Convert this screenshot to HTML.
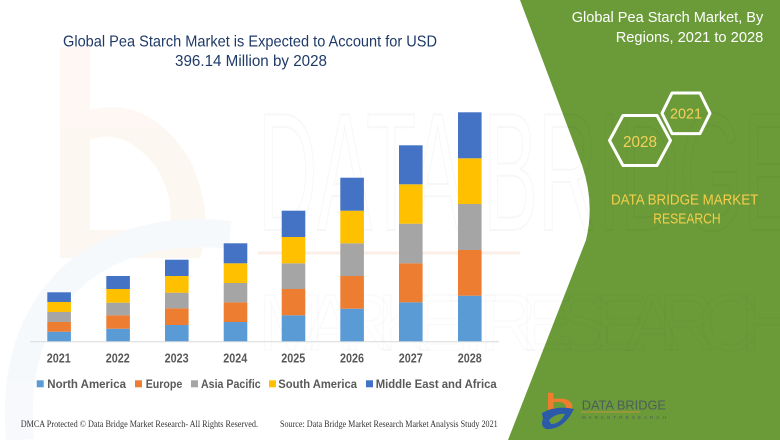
<!DOCTYPE html>
<html><head><meta charset="utf-8"><style>
html,body{margin:0;padding:0;background:#fff;}
svg{display:block;}
</style></head><body>
<svg width="780" height="440" viewBox="0 0 780 440" xmlns="http://www.w3.org/2000/svg">
<rect width="780" height="440" fill="#ffffff"/>
<!-- faint watermark: orange b and blue arc -->
<g opacity="0.3">
<path d="M60,47 L90,47 L90,110 Q150,95 190,160 Q215,215 200,258 L60,258 Z M90,140 L90,230 L170,230 Q175,180 140,150 Q115,130 90,140 Z" fill="#fbe6d6" fill-rule="evenodd"/>
<path d="M20,440 Q10,330 80,270 Q140,225 230,235" fill="none" stroke="#e3ecf7" stroke-width="28"/>
</g>
<!-- green panel -->
<path d="M520,0 L582,165 Q595,203 586,240 L508,440 L780,440 L780,0 Z" fill="#6b9b39"/>
<!-- faint big watermark text -->
<text x="258" y="230" font-family="Liberation Sans, sans-serif" font-size="168" fill="none" stroke="#000" stroke-opacity="0.03" stroke-width="2" textLength="540" lengthAdjust="spacingAndGlyphs">DATA BRIDGE</text>
<text x="258" y="350" font-family="Liberation Sans, sans-serif" font-size="80" fill="none" stroke="#000" stroke-opacity="0.02" stroke-width="1.5" textLength="540" lengthAdjust="spacing">M A R K E T  R E S E A R C H</text>
<line x1="258" y1="253" x2="520" y2="253" stroke="#f6d9c4" stroke-width="3" opacity="0.4"/>

<!-- Title -->
<g font-family="Liberation Sans, sans-serif" fill="#1f3a68" font-size="16">
<text x="63" y="46.5" textLength="374" lengthAdjust="spacingAndGlyphs">Global Pea Starch Market is Expected to Account for USD</text>
<text x="175" y="66" textLength="152" lengthAdjust="spacingAndGlyphs">396.14 Million by 2028</text>
</g>

<!-- axis -->
<line x1="30" y1="341.8" x2="499" y2="341.8" stroke="#d9d9d9" stroke-width="1"/>

<!-- bars -->
<g>
<rect x="47.3" y="331.7" width="23.6" height="9.6" fill="#5b9bd5"/>
<rect x="47.3" y="322" width="23.6" height="9.7" fill="#ed7d31"/>
<rect x="47.3" y="312" width="23.6" height="10" fill="#a5a5a5"/>
<rect x="47.3" y="302" width="23.6" height="10" fill="#ffc000"/>
<rect x="47.3" y="292.3" width="23.6" height="9.7" fill="#4472c4"/>
<rect x="106.3" y="328.7" width="23.6" height="12.6" fill="#5b9bd5"/>
<rect x="106.3" y="315.3" width="23.6" height="13.4" fill="#ed7d31"/>
<rect x="106.3" y="302.7" width="23.6" height="12.6" fill="#a5a5a5"/>
<rect x="106.3" y="289" width="23.6" height="13.7" fill="#ffc000"/>
<rect x="106.3" y="276" width="23.6" height="13" fill="#4472c4"/>
<rect x="165" y="325" width="23.6" height="16.3" fill="#5b9bd5"/>
<rect x="165" y="308.3" width="23.6" height="16.7" fill="#ed7d31"/>
<rect x="165" y="292.7" width="23.6" height="15.6" fill="#a5a5a5"/>
<rect x="165" y="276" width="23.6" height="16.7" fill="#ffc000"/>
<rect x="165" y="259.7" width="23.6" height="16.3" fill="#4472c4"/>
<rect x="223.7" y="322" width="23.6" height="19.3" fill="#5b9bd5"/>
<rect x="223.7" y="302.3" width="23.6" height="19.7" fill="#ed7d31"/>
<rect x="223.7" y="283" width="23.6" height="19.3" fill="#a5a5a5"/>
<rect x="223.7" y="263.3" width="23.6" height="19.7" fill="#ffc000"/>
<rect x="223.7" y="243.3" width="23.6" height="20" fill="#4472c4"/>
<rect x="281.7" y="315.3" width="23.6" height="26" fill="#5b9bd5"/>
<rect x="281.7" y="289" width="23.6" height="26.3" fill="#ed7d31"/>
<rect x="281.7" y="263.3" width="23.6" height="25.7" fill="#a5a5a5"/>
<rect x="281.7" y="237" width="23.6" height="26.3" fill="#ffc000"/>
<rect x="281.7" y="210.7" width="23.6" height="26.3" fill="#4472c4"/>
<rect x="340.3" y="308.7" width="23.6" height="32.6" fill="#5b9bd5"/>
<rect x="340.3" y="276" width="23.6" height="32.7" fill="#ed7d31"/>
<rect x="340.3" y="243.3" width="23.6" height="32.7" fill="#a5a5a5"/>
<rect x="340.3" y="210.7" width="23.6" height="32.6" fill="#ffc000"/>
<rect x="340.3" y="177.7" width="23.6" height="33" fill="#4472c4"/>
<rect x="399" y="302.3" width="23.6" height="39" fill="#5b9bd5"/>
<rect x="399" y="263.3" width="23.6" height="39" fill="#ed7d31"/>
<rect x="399" y="223.7" width="23.6" height="39.6" fill="#a5a5a5"/>
<rect x="399" y="184.3" width="23.6" height="39.4" fill="#ffc000"/>
<rect x="399" y="145.3" width="23.6" height="39" fill="#4472c4"/>
<rect x="458" y="295.7" width="23.6" height="45.6" fill="#5b9bd5"/>
<rect x="458" y="250" width="23.6" height="45.7" fill="#ed7d31"/>
<rect x="458" y="204" width="23.6" height="46" fill="#a5a5a5"/>
<rect x="458" y="158.3" width="23.6" height="45.7" fill="#ffc000"/>
<rect x="458" y="112.3" width="23.6" height="46" fill="#4472c4"/>
</g>

<!-- year labels -->
<g font-family="Liberation Sans, sans-serif" font-weight="bold" font-size="13" fill="#595959">
<text x="46.8" y="362.5" textLength="24" lengthAdjust="spacingAndGlyphs">2021</text>
<text x="105.8" y="362.5" textLength="24" lengthAdjust="spacingAndGlyphs">2022</text>
<text x="164.6" y="362.5" textLength="24" lengthAdjust="spacingAndGlyphs">2023</text>
<text x="223.3" y="362.5" textLength="24" lengthAdjust="spacingAndGlyphs">2024</text>
<text x="281.3" y="362.5" textLength="24" lengthAdjust="spacingAndGlyphs">2025</text>
<text x="340" y="362.5" textLength="24" lengthAdjust="spacingAndGlyphs">2026</text>
<text x="398.7" y="362.5" textLength="24" lengthAdjust="spacingAndGlyphs">2027</text>
<text x="457.7" y="362.5" textLength="24" lengthAdjust="spacingAndGlyphs">2028</text>
</g>

<!-- legend -->
<g>
<rect x="36.7" y="380.3" width="7" height="7" fill="#5b9bd5"/>
<rect x="135" y="380.3" width="7" height="7" fill="#ed7d31"/>
<rect x="191" y="380.3" width="7" height="7" fill="#a5a5a5"/>
<rect x="269" y="380.3" width="7" height="7" fill="#ffc000"/>
<rect x="366" y="380.3" width="7" height="7" fill="#4472c4"/>
</g>
<g font-family="Liberation Sans, sans-serif" font-weight="bold" font-size="12" fill="#595959">
<text x="47.3" y="387.8" textLength="78.7" lengthAdjust="spacingAndGlyphs">North America</text>
<text x="145.7" y="387.8" textLength="36.6" lengthAdjust="spacingAndGlyphs">Europe</text>
<text x="201" y="387.8" textLength="59.7" lengthAdjust="spacingAndGlyphs">Asia Pacific</text>
<text x="278.3" y="387.8" textLength="78.7" lengthAdjust="spacingAndGlyphs">South America</text>
<text x="375.7" y="387.8" textLength="121" lengthAdjust="spacingAndGlyphs">Middle East and Africa</text>
</g>

<!-- footer -->
<g font-family="Liberation Serif, serif" font-size="9" fill="#333">
<text x="20.7" y="427" textLength="237.3" lengthAdjust="spacingAndGlyphs">DMCA Protected © Data Bridge Market Research- All Rights Reserved.</text>
<text x="280" y="427" textLength="217.7" lengthAdjust="spacingAndGlyphs">Source: Data Bridge Market Research Market Analysis Study 2021</text>
</g>

<!-- right panel text -->
<g font-family="Liberation Sans, sans-serif" font-size="15" fill="#ffffff">
<text x="571.7" y="22" textLength="191.6" lengthAdjust="spacingAndGlyphs">Global Pea Starch Market, By</text>
<text x="615.7" y="42" textLength="147.6" lengthAdjust="spacingAndGlyphs">Regions, 2021 to 2028</text>
</g>

<!-- hexagons -->
<g fill="none" stroke="#ffffff" stroke-width="3" stroke-linejoin="round">
<polygon points="662,113.3 672,93 700,93 710,113.3 700,133.6 672,133.6"/>
<polygon points="609.5,140.5 623,115.5 657,115.5 670.5,140.5 657,165.5 623,165.5"/>
</g>
<g font-family="Liberation Sans, sans-serif" fill="#f2d25a">
<text x="686" y="118.5" font-size="15" text-anchor="middle" textLength="32" lengthAdjust="spacingAndGlyphs">2021</text>
<text x="640" y="147" font-size="16" text-anchor="middle" textLength="34" lengthAdjust="spacingAndGlyphs">2028</text>
</g>

<g font-family="Liberation Sans, sans-serif" font-size="15" fill="#f5ce4a">
<text x="611" y="204.5" textLength="147.3" lengthAdjust="spacingAndGlyphs">DATA BRIDGE MARKET</text>
<text x="653.3" y="223.5" textLength="67.4" lengthAdjust="spacingAndGlyphs">RESEARCH</text>
</g>

<!-- logo -->
<g>
<path d="M548,392.7 L553.5,392.7 L553.5,399 Q568,397 572,404 Q573,409 571,411 L548,411 Z" fill="#ee7d2d"/>
<path d="M553.5,402 L553.5,408 L566,408 Q566,403 560,402 Z" fill="#6b9b39"/>
<path d="M542,413 Q556,405 574,409 L570,416 Q560,430 546,429 Q540,426 543,419 Z" fill="#2b5aa8"/>
<path d="M549,420 Q556,413 565,414 Q560,424 551,424 Z" fill="#6b9b39"/>
<text x="581.7" y="409.5" font-family="Liberation Sans, sans-serif" font-size="13" fill="#4f5d5a" textLength="84.3" lengthAdjust="spacingAndGlyphs">DATA BRIDGE</text>
<line x1="581" y1="412" x2="640" y2="412" stroke="#e0923a" stroke-width="0.8"/>
<text x="582" y="419" font-family="Liberation Sans, sans-serif" font-size="4.5" fill="#4f5d5a" textLength="84" lengthAdjust="spacing">M A R K E T   R E S E A R C H</text>
</g>
</svg>
</body></html>
